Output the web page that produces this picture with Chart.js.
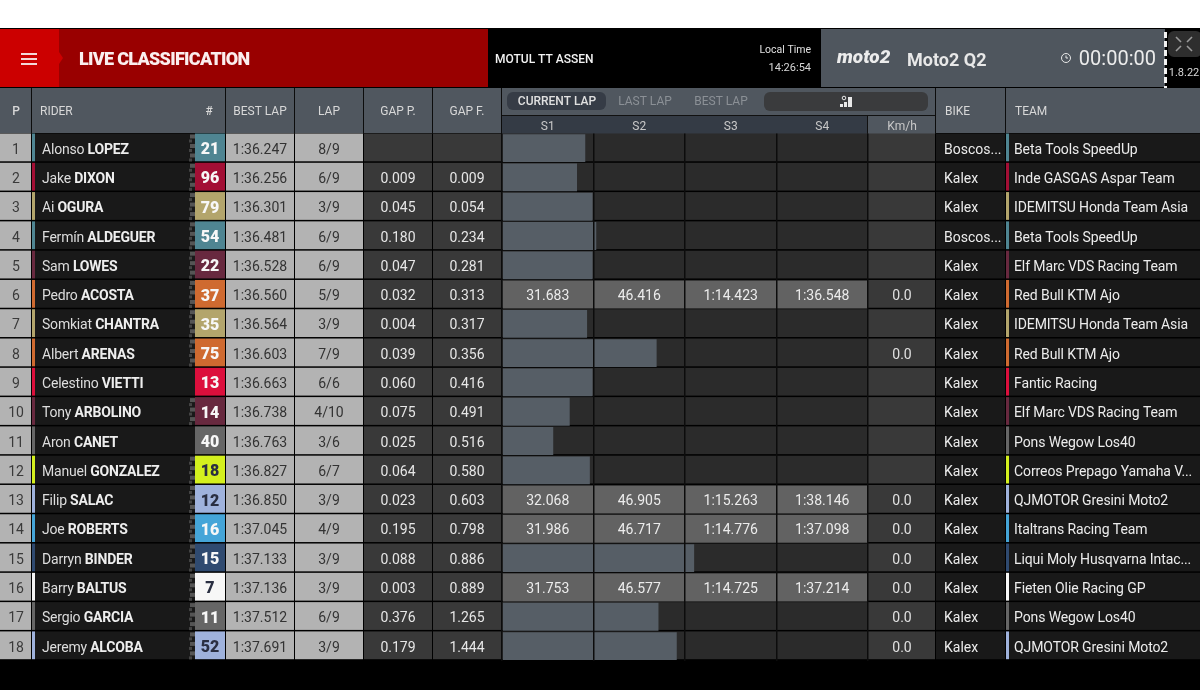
<!DOCTYPE html>
<html>
<head>
<meta charset="utf-8">
<title>Live Classification</title>
<script src="https://cdn.jsdelivr.net/npm/chart.js@4"></script>
<style>
  html, body { margin: 0; padding: 0; background: #000; overflow: hidden; }
  canvas { display: block; }
</style>
</head>
<body>
<canvas id="grafico" width="1200" height="690"></canvas>
<script>
const posiciones = ['1','2','3','4','5','6','7','8','9','10','11','12','13','14','15','16','17','18'];
const nombres = ['Alonso','Jake','Ai','Fermín','Sam','Pedro','Somkiat','Albert','Celestino','Tony','Aron','Manuel','Filip','Joe','Darryn','Barry','Sergio','Jeremy'];
const apellidos = ['LOPEZ','DIXON','OGURA','ALDEGUER','LOWES','ACOSTA','CHANTRA','ARENAS','VIETTI','ARBOLINO','CANET','GONZALEZ','SALAC','ROBERTS','BINDER','BALTUS','GARCIA','ALCOBA'];
const dorsales = ['21','96','79','54','22','37','35','75','13','14','40','18','12','16','15','7','11','52'];
const mejorVuelta = ['1:36.247','1:36.256','1:36.301','1:36.481','1:36.528','1:36.560','1:36.564','1:36.603','1:36.663','1:36.738','1:36.763','1:36.827','1:36.850','1:37.045','1:37.133','1:37.136','1:37.512','1:37.691'];
const vueltas = ['8/9','6/9','3/9','6/9','6/9','5/9','3/9','7/9','6/6','4/10','3/6','6/7','3/9','4/9','3/9','3/9','6/9','3/9'];
const gapP = ['','0.009','0.045','0.180','0.047','0.032','0.004','0.039','0.060','0.075','0.025','0.064','0.023','0.195','0.088','0.003','0.376','0.179'];
const gapF = ['','0.009','0.054','0.234','0.281','0.313','0.317','0.356','0.416','0.491','0.516','0.580','0.603','0.798','0.886','0.889','1.265','1.444'];
const motos = ['Boscos...','Kalex','Kalex','Boscos...','Kalex','Kalex','Kalex','Kalex','Kalex','Kalex','Kalex','Kalex','Kalex','Kalex','Kalex','Kalex','Kalex','Kalex'];
const equipos = ['Beta Tools SpeedUp','Inde GASGAS Aspar Team','IDEMITSU Honda Team Asia','Beta Tools SpeedUp','Elf Marc VDS Racing Team','Red Bull KTM Ajo','IDEMITSU Honda Team Asia','Red Bull KTM Ajo','Fantic Racing','Elf Marc VDS Racing Team','Pons Wegow Los40','Correos Prepago Yamaha V...','QJMOTOR Gresini Moto2','Italtrans Racing Team','Liqui Moly Husqvarna Intac...','Fieten Olie Racing GP','Pons Wegow Los40','QJMOTOR Gresini Moto2'];
const velocidad = ['','','','','','0.0','','0.0','','','','','0.0','0.0','0.0','0.0','0.0','0.0'];

// Sector progress, as the share of each sector that is filled
const progresoS1 = [0.91,0.82,0.99,1,0.99,1,0.93,1,0.99,0.74,0.56,0.96,1,1,1,1,1,1];
const progresoS2 = [0,0,0,0.03,0,1,0,0.69,0,0,0,0,1,1,1,1,0.71,0.91];
const progresoS3 = [0,0,0,0,0,1,0,0,0,0,0,0,1,1,0.1,1,0,0];
const progresoS4 = [0,0,0,0,0,1,0,0,0,0,0,0,1,1,0,1,0,0];

// Sector times, only for riders with a finished lap
const tiempoS1 = ['','','','','','31.683','','','','','','','32.068','31.986','','31.753','',''];
const tiempoS2 = ['','','','','','46.416','','','','','','','46.905','46.717','','46.577','',''];
const tiempoS3 = ['','','','','','1:14.423','','','','','','','1:15.263','1:14.776','','1:14.725','',''];
const tiempoS4 = ['','','','','','1:36.548','','','','','','','1:38.146','1:37.098','','1:37.214','',''];

const sectores = ['S1','S2','S3','S4'];
const pestanas = ['CURRENT LAP','LAST LAP','BEST LAP'];

// Team colours and the chequered marker next to the number
const coloresEquipo = ['#4f8592','#a30f35','#b3a56c','#4f8592','#68293f','#cf6a30','#b3a56c','#cf6a30','#dc0f3c','#68293f','#666666','#d4f01e','#9fb2dc','#45a5d8','#2f4a70','#f7f7f7','#666666','#9fb2dc'];
const textoOscuro = ['18','12','7','52'];
const conBandera = [1,1,1,1,1,1,1,1,0,1,0,1,1,1,1,1,1,1];

const FUENTE = 'Roboto, "Noto Sans", sans-serif';

function texto(ctx, str, x, y, font, color, align) {
  ctx.font = font;
  ctx.fillStyle = color;
  ctx.textAlign = align || 'left';
  ctx.textBaseline = 'middle';
  ctx.fillText(str, x, y + 1);
}

function caja(ctx, x, y, w, h, color) {
  ctx.fillStyle = color;
  ctx.fillRect(x, y, w, h);
}

function pastilla(ctx, x, y, w, h, color) {
  ctx.fillStyle = color;
  ctx.beginPath();
  ctx.roundRect(x, y, w, h, 6);
  ctx.fill();
}

// Everything around the sector bars: header and the cells of each row
const tablaPlugin = {
  id: 'tabla',
  beforeDraw(chart) {
    const ctx = chart.ctx;
    const sy = chart.scales.y;
    const sx = chart.scales.x;
    ctx.save();
    caja(ctx, 0, 0, 1200, 690, '#000');
    caja(ctx, 0, 0, 1200, 28, '#fff');

    // top band
    caja(ctx, 0, 29, 488, 58, '#990000');
    caja(ctx, 0, 29, 59, 58, '#cc0000');
    ctx.fillStyle = '#cc0000';
    ctx.beginPath(); ctx.moveTo(59, 52); ctx.lineTo(63, 58); ctx.lineTo(59, 64); ctx.fill();
    caja(ctx, 21, 53, 16, 2, '#f4d8d8');
    caja(ctx, 21, 58, 16, 2, '#f4d8d8');
    caja(ctx, 21, 63, 16, 2, '#f4d8d8');
    caja(ctx, 821, 29, 344, 58, '#4f565e');
    for (let y = 29; y < 87; y += 9) {
      caja(ctx, 1164, y + 3, 3, 6, '#f2f2f2');
    }
    pastilla(ctx, 1168, 31, 34, 26, '#2e2e2e');

    // table header
    caja(ctx, 0, 88, 1200, 45, '#50575f');
    [31, 225, 294, 363, 432, 501, 935, 1005].forEach(x => caja(ctx, x, 88, 1, 46, '#0c0c0c'));
    caja(ctx, 502, 115, 366, 19, '#343b45');
    caja(ctx, 502, 115, 433, 1, '#111');
    caja(ctx, 868, 116, 67, 18, '#50575f');
    caja(ctx, 867, 115, 1, 19, '#111');
    pastilla(ctx, 507, 92, 99, 18, '#363c46');
    pastilla(ctx, 764, 92, 164, 19, '#3a3b3d');

    // rows
    const h = (sy.getPixelForValue(1) - sy.getPixelForValue(0));
    posiciones.forEach((p, i) => {
      const top = sy.getPixelForValue(i) - h / 2;
      const fila = h - 1.5;
      const color = coloresEquipo[i];
      caja(ctx, 0, top, 31, fila, '#b3b3b3');
      caja(ctx, 32, top, 3, fila, color);
      caja(ctx, 35, top, 160, fila, '#191919');
      if (conBandera[i]) {
        for (let k = 0; k < 3; k++) {
          caja(ctx, 190, top + 1 + k * 9.5, 5, 4, '#555');
          caja(ctx, 189, top + 6 + k * 9.5, 3, 3, '#444');
        }
      }
      caja(ctx, 195, top, 30, fila, color);
      caja(ctx, 226, top, 68, fila, '#b3b3b3');
      caja(ctx, 295, top, 68, fila, '#b3b3b3');
      caja(ctx, 364, top, 68, fila, '#393939');
      caja(ctx, 433, top, 68, fila, '#393939');
      caja(ctx, sx.left, top, sx.right - sx.left, fila, '#2b2b2b');
      caja(ctx, sx.right, top, 67, fila, '#393939');
      caja(ctx, 936, top, 69, fila, '#191919');
      caja(ctx, 1006, top, 3, fila, color);
      caja(ctx, 1009, top, 191, fila, '#191919');
    });
    ctx.restore();
  },
  afterDraw(chart) {
    const ctx = chart.ctx;
    const sy = chart.scales.y;
    const sx = chart.scales.x;
    const f = size => size + 'px ' + FUENTE;
    const fb = (size, w) => (w || 700) + ' ' + size + 'px ' + FUENTE;
    ctx.save();

    // top band text
    ctx.letterSpacing = '-0.7px';
    texto(ctx, 'LIVE CLASSIFICATION', 79, 59, fb(18, 900), '#fbeeee');
    ctx.letterSpacing = '0px';
    texto(ctx, 'MOTUL TT ASSEN', 495, 59, fb(12, 500), '#f2f2f2');
    texto(ctx, 'Local Time', 811, 49.5, f(10.5), '#e0e0e0', 'right');
    texto(ctx, '14:26:54', 811, 67, f(11), '#d8d8d8', 'right');
    texto(ctx, 'moto2', 837, 57, 'italic 900 19px ' + FUENTE, '#ececec');
    texto(ctx, 'Moto2 Q2', 907, 60, fb(18, 700), '#e8e8e8');
    texto(ctx, '00:00:00', 1156, 59, f(20), '#ececec', 'right');
    ctx.strokeStyle = '#e8e8e8';
    ctx.lineWidth = 1;
    ctx.beginPath();
    ctx.arc(1066, 58, 4.5, 0, Math.PI * 2);
    ctx.moveTo(1066, 55.5); ctx.lineTo(1066, 58); ctx.lineTo(1068, 58);
    ctx.stroke();
    texto(ctx, '1.8.22', 1184, 72, f(11), '#d8d8d8', 'center');
    ctx.strokeStyle = '#9a9a9a';
    ctx.lineWidth = 1.6;
    [[1176, 37, 1181, 42], [1192, 37, 1187, 42], [1176, 51, 1181, 46], [1192, 51, 1187, 46]].forEach(s => {
      ctx.beginPath();
      ctx.moveTo(s[0], s[1]);
      ctx.lineTo(s[2], s[3]);
      ctx.stroke();
    });

    // table header text
    const cab = f(12);
    texto(ctx, 'P', 16, 111, fb(12, 500), '#d8d8d8', 'center');
    texto(ctx, 'RIDER', 40, 111, cab, '#d8d8d8');
    texto(ctx, '#', 209, 111, fb(12, 500), '#d8d8d8', 'center');
    texto(ctx, 'BEST LAP', 260, 111, cab, '#d8d8d8', 'center');
    texto(ctx, 'LAP', 329, 111, cab, '#d8d8d8', 'center');
    texto(ctx, 'GAP P.', 398, 111, cab, '#d8d8d8', 'center');
    texto(ctx, 'GAP F.', 467, 111, cab, '#d8d8d8', 'center');
    texto(ctx, pestanas[0], 557, 101, fb(12, 500), '#e0e0e0', 'center');
    texto(ctx, pestanas[1], 645, 101, cab, '#8b9096', 'center');
    texto(ctx, pestanas[2], 721, 101, cab, '#8b9096', 'center');
    texto(ctx, 'BIKE', 945, 111, cab, '#d8d8d8');
    texto(ctx, 'TEAM', 1015, 111, cab, '#d8d8d8');
    texto(ctx, 'Km/h', 902, 126, cab, '#c8c8c8', 'center');
    sectores.forEach((s, k) => {
      texto(ctx, s, sx.getPixelForValue(k + 0.5), 126, cab, '#c8c8c8', 'center');
    });
    // signal icon
    [[840, 104, 3, 3], [844, 102, 3, 5], [848, 97, 4, 10]].forEach(b => caja(ctx, b[0], b[1], b[2], b[3], '#e8e8e8'));
    ctx.strokeStyle = '#e8e8e8';
    ctx.lineWidth = 1;
    ctx.beginPath(); ctx.arc(844, 98, 1.8, 0, Math.PI * 2); ctx.stroke();

    // row text
    const tiempos = [tiempoS1, tiempoS2, tiempoS3, tiempoS4];
    posiciones.forEach((p, i) => {
      const y = sy.getPixelForValue(i) + 1;
      texto(ctx, p, 16, y, f(14), '#3a3a3a', 'center');
      ctx.letterSpacing = '-0.2px';
      ctx.font = f(14);
      const nombre = nombres[i] + ' ';
      texto(ctx, nombre, 42, y, f(14), '#dddddd');
      const ancho = ctx.measureText(nombre).width;
      texto(ctx, apellidos[i], 42 + ancho, y, fb(14), '#eeeeee');
      ctx.letterSpacing = '0px';
      const oscuro = textoOscuro.includes(dorsales[i]);
      texto(ctx, dorsales[i], 210, y, fb(16, 900), oscuro ? '#2a2f42' : '#f7f7f7', 'center');
      texto(ctx, mejorVuelta[i], 260, y, f(14), '#333', 'center');
      texto(ctx, vueltas[i], 329, y, f(14), '#333', 'center');
      texto(ctx, gapP[i], 398, y, f(14), '#e6e6e6', 'center');
      texto(ctx, gapF[i], 467, y, f(14), '#e6e6e6', 'center');
      tiempos.forEach((t, k) => {
        texto(ctx, t[i], sx.getPixelForValue(k + 0.5), y, f(14), '#ececec', 'center');
      });
      texto(ctx, velocidad[i], 902, y, f(14), '#e0e0e0', 'center');
      texto(ctx, motos[i], 944, y, f(14), '#ececec');
      ctx.letterSpacing = '-0.1px';
      texto(ctx, equipos[i], 1014, y, f(14), '#ececec');
      ctx.letterSpacing = '0px';
    });
    ctx.restore();
  }
};

// Bars turn neutral grey once the whole lap has a time
function colorBarra(context) {
  return tiempoS1[context.dataIndex] ? '#626262' : '#565e66';
}

function serie(label, data) {
  return {
    label: label,
    data: data,
    backgroundColor: colorBarra,
    borderWidth: 0,
    barPercentage: 1,
    categoryPercentage: 0.95,
    stack: 'vuelta'
  };
}

const ctx = document.getElementById('grafico').getContext('2d');
const grafico = new Chart(ctx, {
  type: 'bar',
  data: {
    labels: posiciones,
    datasets: [
      serie('S1', progresoS1),
      serie('S2', progresoS2),
      serie('S3', progresoS3),
      serie('S4', progresoS4)
    ]
  },
  options: {
    indexAxis: 'y',
    responsive: false,
    animation: false,
    layout: { padding: { left: 502, right: 332, top: 133.5, bottom: 29.3 } },
    plugins: { legend: { display: false }, tooltip: { enabled: false } },
    scales: {
      x: {
        stacked: true,
        min: 0,
        max: 4,
        ticks: { display: false, stepSize: 1 },
        border: { display: false },
        grid: { color: '#0c0c0c', lineWidth: 1.5, drawTicks: false, z: 1 }
      },
      y: {
        stacked: true,
        ticks: { display: false },
        border: { display: false },
        grid: { display: false, drawTicks: false }
      }
    }
  },
  plugins: [tablaPlugin]
});
</script>
</body>
</html>
